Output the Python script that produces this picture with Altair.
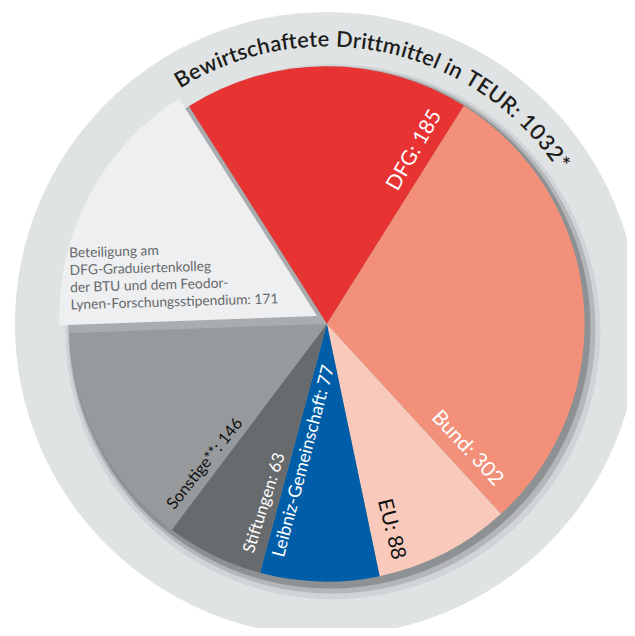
import math
import altair as alt
import numpy as np
import pandas as pd

# ---------------- data ----------------
categories = ["DFG", "Bund", "EU", "Leibniz-Gemeinschaft", "Stiftungen", "Sonstige**", "Beteiligung"]
values = [185, 302, 88, 77, 63, 146, 171]
labels = [
    "DFG: 185",
    "Bund: 302",
    "EU: 88",
    "Leibniz-Gemeinschaft: 77",
    "Stiftungen: 63",
    "Sonstige**: 146",
    "Beteiligung am\nDFG-Graduiertenkolleg\nder BTU und dem Feodor-\nLynen-Forschungsstipendium: 171",
]
title_text = "Bewirtschaftete Drittmittel in TEUR: 1032*"

# ---------------- style ----------------
colors = ["#E83333", "#F2907A", "#F9CABB", "#005EA8", "#686B6E", "#979A9C", "#EEEFF1"]
W, H = 627, 620
CX, CY = 323, 316          # pie centre inside the chart
R = 261                    # pie radius
R_RING = 316               # outer grey disc
A0 = math.radians(-32.4)   # start angle of first slice
EXPLODE = (-10, -8)

total = sum(values)
cum = np.cumsum([0] + values)
df = pd.DataFrame({
    "cat": categories,
    "value": values,
    "start": cum[:-1],
    "end": cum[1:],
    "label": labels,
})

theta_scale = alt.Scale(domain=[0, total], range=[A0, A0 + 2 * math.pi])

# label placement (fraction inside slice, radius, rotation, font size, colour)
lab_frac = [0.918, 0.944, 0.82, 0.79, 0.19, 0.08, 0.271]
lab_r = [197, 190, 218, 141, 192, 188, 259]
lab_rot = [300, 47, 76, 284.8, 287.6, 308.5, 358.3]
lab_fs = [21, 21, 21, 18, 17, 16.5, 14]
lab_col = ["#ffffff", "#ffffff", "#111111", "#ffffff", "#ffffff", "#111111", "#66696B"]

ldf = df.copy()
ldf["pos"] = ldf["start"] + np.array(lab_frac) * ldf["value"]
ldf["r"] = lab_r
ldf["rot"] = lab_rot
ldf["fs"] = lab_fs
ldf["tcol"] = lab_col

# curved title: characters along an arc
TW = {'B': .62, 'e': .53, 'w': .76, 'i': .24, 'r': .36, 't': .34, 's': .42, 'c': .46,
      'h': .55, 'a': .50, 'f': .31, ' ': .26, 'D': .71, 'm': .83, 'l': .24, 'n': .55,
      'T': .56, 'E': .56, 'U': .70, 'R': .60, ':': .25, '1': .58, '0': .58, '3': .58,
      '2': .58, '*': .42}
ws = np.array([TW.get(ch, .5) for ch in title_text])
centers = np.cumsum(ws) - ws / 2
t0, t1 = -30.5, 55.6
ang = t0 + (centers - centers[0]) / (centers[-1] - centers[0]) * (t1 - t0)
tdf = pd.DataFrame({
    "ch": list(title_text),
    "pos": (np.radians(ang) - A0) / (2 * math.pi) * total,
    "r": 288,
    "rot": np.mod(ang, 360),
})

one = pd.DataFrame({"k": [0]})


def disc(radius, dx, dy, color, opacity=1.0):
    return alt.Chart(one).mark_arc(radius=radius, color=color, opacity=opacity).encode(
        x=alt.value(CX + dx), y=alt.value(CY + dy),
        theta=alt.value(0), theta2=alt.value(2 * math.pi),
    )


ring = disc(R_RING, 0, 0, "#E0E3E4")
sh1 = disc(R + 10, 6, 8, "#CDD0D2", 0.8)
sh2 = disc(R + 6, 5, 6, "#B0B3B5", 0.9)
sh3 = disc(R + 3, 3, 4, "#8E9193")

base = alt.Chart(df)
pie = base.transform_filter(alt.datum.cat != "Beteiligung").mark_arc(radius=R).encode(
    x=alt.value(CX), y=alt.value(CY),
    theta=alt.Theta("start:Q", scale=theta_scale, stack=None),
    theta2="end:Q",
    color=alt.Color("cat:N", scale=alt.Scale(domain=categories, range=colors), legend=None),
)
expl_shadow = base.transform_filter(alt.datum.cat == "Beteiligung").mark_arc(radius=R, color="#A9ACAE").encode(
    x=alt.value(CX), y=alt.value(CY),
    theta=alt.Theta("start:Q", scale=theta_scale, stack=None),
    theta2="end:Q",
)
expl = base.transform_filter(alt.datum.cat == "Beteiligung").mark_arc(radius=R).encode(
    x=alt.value(CX + EXPLODE[0]), y=alt.value(CY + EXPLODE[1]),
    theta=alt.Theta("start:Q", scale=theta_scale, stack=None),
    theta2="end:Q",
    color=alt.Color("cat:N", scale=alt.Scale(domain=categories, range=colors), legend=None),
)

lab_main = alt.Chart(ldf).transform_filter(alt.datum.cat != "Beteiligung").mark_text(
    font="Lato", align="center", baseline="middle"
).encode(
    x=alt.value(CX), y=alt.value(CY),
    theta=alt.Theta("pos:Q", scale=theta_scale, stack=None),
    radius=alt.Radius("r:Q", scale=None),
    angle=alt.Angle("rot:Q", scale=None),
    size=alt.Size("fs:Q", scale=None),
    color=alt.Color("tcol:N", scale=None),
    text="label:N",
)
lab_bet = alt.Chart(ldf).transform_filter(alt.datum.cat == "Beteiligung").mark_text(
    font="Lato", align="left", baseline="middle", lineBreak="\n", lineHeight=17.5
).encode(
    x=alt.value(CX + EXPLODE[0]), y=alt.value(CY + EXPLODE[1]),
    theta=alt.Theta("pos:Q", scale=theta_scale, stack=None),
    radius=alt.Radius("r:Q", scale=None),
    angle=alt.Angle("rot:Q", scale=None),
    size=alt.Size("fs:Q", scale=None),
    color=alt.Color("tcol:N", scale=None),
    text="label:N",
)
title = alt.Chart(tdf).mark_text(
    font="Lato", fontSize=22, fontWeight=600, color="#1D1D1B", align="center", baseline="middle"
).encode(
    x=alt.value(CX), y=alt.value(CY),
    theta=alt.Theta("pos:Q", scale=theta_scale, stack=None),
    radius=alt.Radius("r:Q", scale=None),
    angle=alt.Angle("rot:Q", scale=None),
    text="ch:N",
)

chart = alt.layer(
    ring, sh1, sh2, sh3, pie, expl_shadow, expl, lab_main, lab_bet, title
).properties(
    width=W, height=H, autosize=alt.AutoSizeParams(type="none"), padding=0, background="white"
).configure_view(stroke=None)

chart.save("out.html", embed_options={"renderer": "svg", "actions": False})
